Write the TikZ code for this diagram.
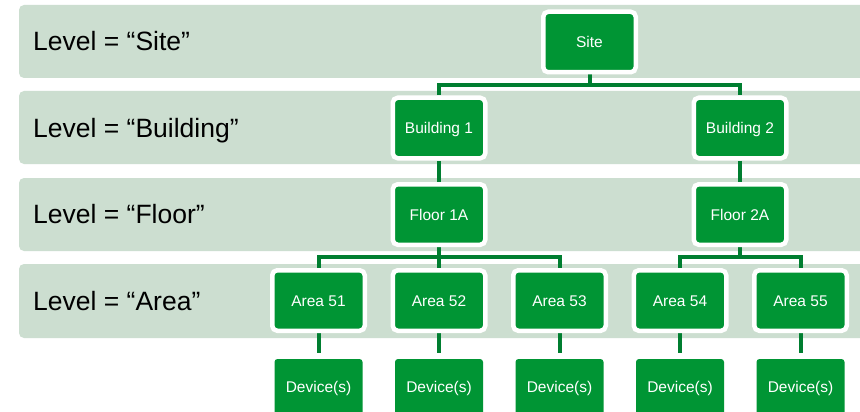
\documentclass[tikz,border=0pt]{standalone}
\usepackage{fontspec}
\setmainfont{Liberation Sans}
\definecolor{bandgreen}{RGB}{204,222,208}
\definecolor{boxgreen}{RGB}{0,149,52}
\definecolor{linegreen}{RGB}{0,126,48}
\pgfdeclarelayer{bands}
\pgfdeclarelayer{lines}
\pgfsetlayers{bands,lines,main}
\begin{document}
\begin{tikzpicture}[x=1pt,y=-1pt,
  box/.style={fill=boxgreen, draw=white, line width=4.5pt, rounded corners=5pt,
    minimum width=92.5pt, minimum height=60.5pt, inner sep=0pt, text=white,
    font=\fontsize{15.5}{18}\selectfont, text height=11.1pt, text depth=0pt},
  devbox/.style={fill=boxgreen, rounded corners=3pt,
    minimum width=88pt, minimum height=56pt, inner sep=0pt, text=white,
    font=\fontsize{15.5}{18}\selectfont, text height=11.1pt, text depth=0pt},
  band/.style={fill=bandgreen, rounded corners=5pt},
  lvl/.style={anchor=base west, inner sep=0pt, text=black,
    font=\fontsize{26.5}{30}\selectfont},
  conn/.style={draw=linegreen, line width=4pt}]
\clip (0,0) rectangle (860,412);
\useasboundingbox (0,0) rectangle (860,412);

\begin{pgfonlayer}{bands}
\fill[white] (0,0) rectangle (860,412);
\fill[band] (19,5) rectangle (880,78);
\fill[band] (19,91) rectangle (880,164);
\fill[band] (19,178) rectangle (880,251);
\fill[band] (19,264) rectangle (880,338);
\end{pgfonlayer}

\node[lvl] (l1) at (33,51) {Level = “Site”};
\node[lvl] (l2) at (33,137) {Level = “Building”};
\node[lvl] (l3) at (33,223.5) {Level = “Floor”};
\node[lvl] (l4) at (33,310) {Level = “Area”};

\node[box] (site) at (589.5,42) {Site};
\node[box] (b1) at (439,128) {Building 1};
\node[box] (b2) at (740,128) {Building 2};
\node[box] (f1) at (439,214.5) {Floor 1A};
\node[box] (f2) at (740,214.5) {Floor 2A};
\node[box] (a51) at (318.5,300.5) {Area 51};
\node[box] (a52) at (439,300.5) {Area 52};
\node[box] (a53) at (559.5,300.5) {Area 53};
\node[box] (a54) at (680,300.5) {Area 54};
\node[box] (a55) at (800.5,300.5) {Area 55};
\node[devbox] (d51) at (318.5,387) {Device(s)};
\node[devbox] (d52) at (439,387) {Device(s)};
\node[devbox] (d53) at (559.5,387) {Device(s)};
\node[devbox] (d54) at (680,387) {Device(s)};
\node[devbox] (d55) at (800.5,387) {Device(s)};

\coordinate (j1) at (589.5,85);
\coordinate (j2) at (439,257);
\coordinate (j3) at (740,257);

\begin{pgfonlayer}{lines}
\draw[conn] (site) -- (j1);
\draw[conn] (b1) |- (j1) -| (b2);
\draw[conn] (b1) -- (f1);
\draw[conn] (b2) -- (f2);
\draw[conn] (f1) -- (j2);
\draw[conn] (a51) |- (j2) -| (a53);
\draw[conn] (j2) -- (a52);
\draw[conn] (f2) -- (j3);
\draw[conn] (a54) |- (j3) -| (a55);
\draw[conn, shorten >=6pt] (a51) -- (d51);
\draw[conn, shorten >=6pt] (a52) -- (d52);
\draw[conn, shorten >=6pt] (a53) -- (d53);
\draw[conn, shorten >=6pt] (a54) -- (d54);
\draw[conn, shorten >=6pt] (a55) -- (d55);
\end{pgfonlayer}
\end{tikzpicture}
\end{document}
